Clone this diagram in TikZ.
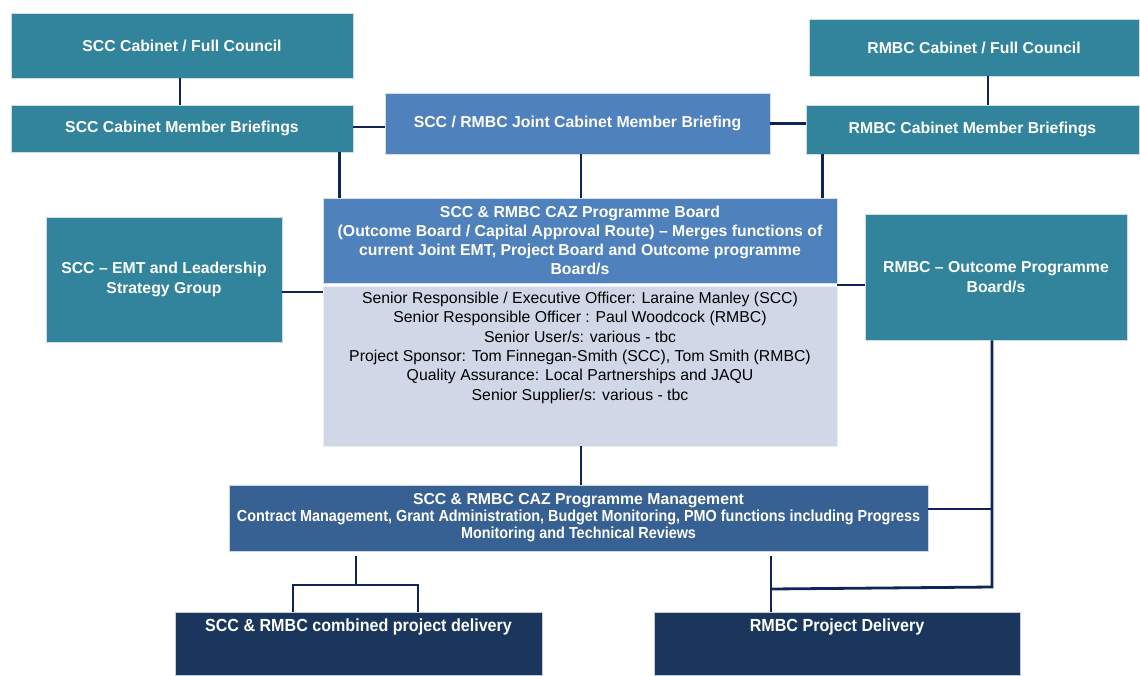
\documentclass[tikz,border=0pt]{standalone}
\usepackage{fontspec}
\setmainfont{Liberation Sans}
\newfontfamily\narrowfont{Liberation Sans}[FakeStretch=0.9]
\newfontfamily\narrowerfont{Liberation Sans}[FakeStretch=0.92]
\definecolor{cTeal}{HTML}{31849B}
\definecolor{cBlue}{HTML}{4F81BD}
\definecolor{cLight}{HTML}{D0D8E8}
\definecolor{cMid}{HTML}{386193}
\definecolor{cNavy}{HTML}{1B365D}
\definecolor{cLine}{HTML}{0F2557}
\tikzset{
  box/.style={rectangle, inner sep=0pt, align=center, text=white,
    font=\bfseries\fontsize{15.8}{19}\selectfont, line width=0.6pt},
  tealbox/.style={box, fill=cTeal, draw=white!75!cTeal},
  bluebox/.style={box, fill=cBlue, draw=white!75!cBlue},
  lightbox/.style={box, fill=cLight, draw=white!60!cLight},
  midbox/.style={box, fill=cMid, draw=white!75!cMid},
  navybox/.style={box, fill=cNavy, draw=white!75!cNavy},
  link/.style={draw=cLine, line width=2.8pt},
  lbl/.style={inner sep=0pt, align=center, text=white}
}
\begin{document}
\begin{tikzpicture}[x=1pt,y=-1pt]
\useasboundingbox (0,0) rectangle (1140,675);
% boxes
\node[tealbox, minimum width=342pt, minimum height=65pt] (scccab) at (182,45.5) {SCC Cabinet / Full Council};
\node[tealbox, minimum width=342pt, minimum height=47pt] (sccbrief) at (182,128.5) {SCC Cabinet Member Briefings};
\node[bluebox, minimum width=385pt, minimum height=61pt] (joint) at (577.5,123.5) {SCC / RMBC Joint Cabinet Member Briefing};
\node[tealbox, minimum width=330pt, minimum height=57pt] (rmbccab) at (974,47.5) {RMBC Cabinet / Full Council};
\node[tealbox, minimum width=333pt, minimum height=49pt] (rmbcbrief) at (972.5,129.5) {RMBC Cabinet Member Briefings};
\node[bluebox, minimum width=514pt, minimum height=85pt, font=\bfseries\fontsize{15.8}{19.2}\selectfont] (boardhead) at (580,240.5)
  {SCC \& RMBC CAZ  Programme  Board\\(Outcome Board / Capital Approval  Route) -- Merges functions of\\current Joint EMT, Project Board and Outcome  programme\\Board/s};
\node[lightbox, minimum width=514pt, minimum height=160pt] (boardbody) at (580,366) {};
\node[lbl, anchor=north, text=black, font=\fontsize{15.8}{19.3}\selectfont] (bodytext) at (580,292)
  {Senior Responsible / Executive Officer: Laraine Manley  (SCC)\\
   Senior Responsible  Officer : Paul Woodcock (RMBC)\\
   Senior User/s: various -  tbc\\
   Project Sponsor: Tom Finnegan-Smith (SCC), Tom Smith (RMBC)\\
   Quality Assurance: Local Partnerships and JAQU\\
   Senior Supplier/s: various - tbc};
\node[tealbox, minimum width=236pt, minimum height=125pt, font=\bfseries\fontsize{15.8}{19.5}\selectfont] (emt) at (164,279.5)
  {SCC -- EMT and Leadership\\Strategy Group};
\node[tealbox, minimum width=262pt, minimum height=126pt, font=\bfseries\fontsize{15.8}{19.5}\selectfont] (rmbcout) at (996,277)
  {RMBC -- Outcome  Programme\\Board/s};
\node[midbox, minimum width=699pt, minimum height=66pt, font=\bfseries\fontsize{15.8}{17}\selectfont] (pm) at (578.5,518)
  {SCC \& RMBC CAZ  Programme  Management\\
   {\narrowfont\fontsize{16}{17}\selectfont Contract Management, Grant Administration, Budget Monitoring, PMO functions including Progress}\\
   {\narrowfont\fontsize{16}{17}\selectfont Monitoring and  Technical Reviews}};
\node[navybox, minimum width=367pt, minimum height=63pt] (comb) at (358.5,643.5) {};
\node[lbl, font=\bfseries\narrowerfont\fontsize{17.5}{19}\selectfont] (combtext) at (358.5,627) {SCC \& RMBC combined  project delivery};
\node[navybox, minimum width=366pt, minimum height=63pt] (rmbcdel) at (837,643.5) {};
\node[lbl, font=\bfseries\narrowerfont\fontsize{17.5}{19}\selectfont] (rmbcdeltext) at (837,627) {RMBC Project Delivery};
% junction coordinates
\coordinate (rj) at (992,587);
\coordinate (rd) at (771,589);
\coordinate (cj) at (356,585);
\coordinate (cl) at (293,585);
\coordinate (cr) at (418,585);
% connectors
\draw[link] ([xshift=-2pt]scccab.south) -- ([xshift=-2pt]scccab.south |- sccbrief.north);
\draw[link] ([xshift=14pt]rmbccab.south) -- ([xshift=14pt]rmbccab.south |- rmbcbrief.north);
\draw[link] ([yshift=1.5pt]sccbrief.east) -- ([yshift=1.5pt]sccbrief.east -| joint.west);
\draw[link] (joint.east) -- (joint.east -| rmbcbrief.west);
\draw[link] ([xshift=-14pt]sccbrief.south east) -- ([xshift=-14pt]sccbrief.south east |- boardhead.north);
\draw[link] ([xshift=3.5pt]joint.south) -- ([xshift=3.5pt]joint.south |- boardhead.north);
\draw[link] ([xshift=17pt]rmbcbrief.south west) -- ([xshift=17pt]rmbcbrief.south west |- boardhead.north);
\draw[link] ([yshift=-12.5pt]emt.east) -- ([yshift=-12.5pt]emt.east -| boardbody.west);
\draw[link] ([yshift=-8pt]rmbcout.west) -- ([yshift=-8pt]rmbcout.west -| boardhead.east);
\draw[link] ([xshift=1pt]boardbody.south) -- ([xshift=1pt]boardbody.south |- pm.north);
\draw[link] ([xshift=-4pt]rmbcout.south) -- (rj) -- (rd);
\draw[link] ([yshift=9pt]pm.east) -- ([yshift=9pt]pm.east -| rj);
\draw[link] ([yshift=-5pt]pm.south -| rd) -- (rd |- rmbcdel.north);
\draw[link] ([yshift=-5pt]pm.south -| cj) -- (cj);
\draw[link] (cl |- comb.north) -- (cl) -- (cr) -- (cr |- comb.north);
\end{tikzpicture}
\end{document}
